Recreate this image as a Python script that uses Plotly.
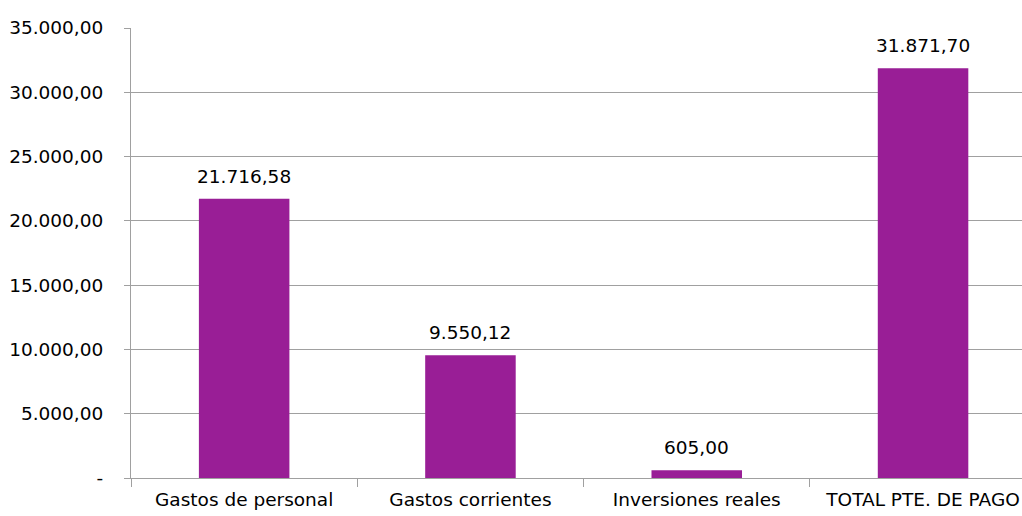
import plotly.graph_objects as go

categories = ["Gastos de personal", "Gastos corrientes", "Inversiones reales", "TOTAL PTE. DE PAGO"]
values = [21716.58, 9550.12, 605.00, 31871.70]
y_ticks = [0, 5000, 10000, 15000, 20000, 25000, 30000, 35000]


def es_fmt(v):
    s = f"{v:,.2f}"
    return s.replace(",", "X").replace(".", ",").replace("X", ".")


y_ticktext = ["-" if v == 0 else es_fmt(v) for v in y_ticks]

FONT = "DejaVu Sans"
FS = 18.5
BAR = "#991e96"
GRID = "#a0a0a0"

fig = go.Figure()
fig.add_trace(go.Bar(
    x=categories,
    y=values,
    marker=dict(color=BAR, line=dict(width=0)),
    hoverinfo="skip",
))

for c, v in zip(categories, values):
    fig.add_annotation(
        x=c, y=v, text=es_fmt(v), showarrow=False,
        yanchor="bottom", yshift=10,
        font=dict(family=FONT, size=FS, color="#000000"),
    )

W, H = 1022, 516
left, top, bottom = 131, 28, 38
cat_w = 226.3
span = (W - left) / cat_w

fig.update_layout(
    width=W, height=H,
    margin=dict(l=left, r=0, t=top, b=bottom, pad=0),
    paper_bgcolor="white", plot_bgcolor="white",
    bargap=0.6,
    showlegend=False,
    separators=",.",
    font=dict(family=FONT, size=FS, color="#000000"),
    xaxis=dict(
        range=[-0.5, -0.5 + span],
        showgrid=False,
        showline=True, linecolor=GRID, linewidth=1,
        ticks="outside", tickson="boundaries", ticklen=8,
        tickcolor=GRID, tickwidth=1,
        ticklabelstandoff=5,
        tickfont=dict(family=FONT, size=FS, color="#000000"),
        automargin=False,
    ),
    yaxis=dict(
        range=[0, 35000],
        tickvals=y_ticks, ticktext=y_ticktext,
        showgrid=True, gridcolor=GRID, gridwidth=1,
        showline=True, linecolor=GRID, linewidth=1,
        ticks="outside", ticklen=6, tickcolor=GRID, tickwidth=1,
        ticklabelstandoff=17,
        tickfont=dict(family=FONT, size=FS, color="#000000"),
        zeroline=False,
        automargin=False,
    ),
)

fig.write_html("out.html")
